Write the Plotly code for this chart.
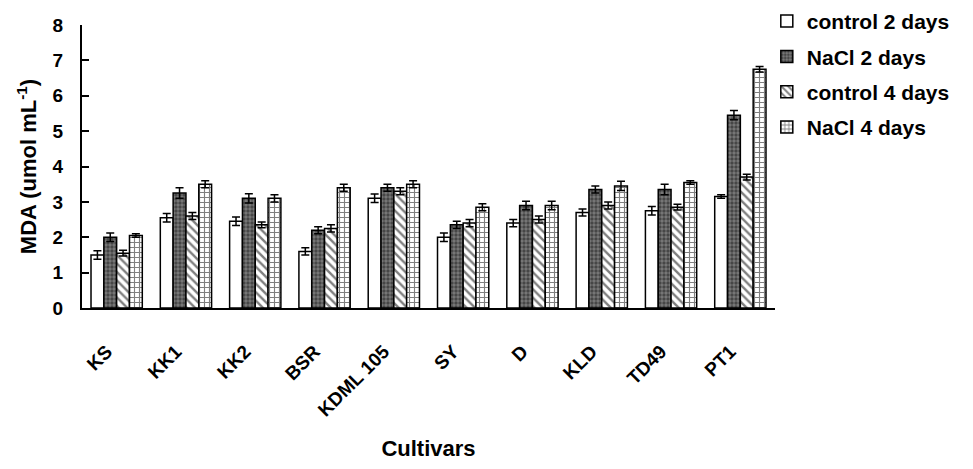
import plotly.graph_objects as go

cultivars = ["KS", "KK1", "KK2", "BSR", "KDML 105", "SY", "D", "KLD", "TD49", "PT1"]
series_names = ["control 2 days", "NaCl 2 days", "control 4 days", "NaCl 4 days"]
control_2d = [1.5, 2.55, 2.45, 1.6, 3.1, 2.0, 2.4, 2.7, 2.75, 3.15]
nacl_2d = [2.0, 3.25, 3.1, 2.2, 3.4, 2.35, 2.9, 3.35, 3.35, 5.45]
control_4d = [1.55, 2.6, 2.35, 2.25, 3.3, 2.4, 2.5, 2.9, 2.85, 3.7]
nacl_4d = [2.05, 3.5, 3.1, 3.4, 3.5, 2.85, 2.9, 3.45, 3.55, 6.75]
err_c2 = [0.12, 0.12, 0.12, 0.1, 0.12, 0.12, 0.1, 0.1, 0.12, 0.05]
err_n2 = [0.12, 0.15, 0.13, 0.1, 0.1, 0.1, 0.12, 0.1, 0.15, 0.13]
err_c4 = [0.08, 0.1, 0.08, 0.1, 0.1, 0.1, 0.1, 0.1, 0.08, 0.08]
err_n4 = [0.05, 0.1, 0.1, 0.1, 0.1, 0.1, 0.12, 0.13, 0.05, 0.08]

FONT = "Arial, Liberation Sans, sans-serif"

patterns = [
    dict(color="white", pattern=dict(shape="")),
    dict(color="#5a5a5a", pattern=dict(shape=".", fgcolor="#111111", bgcolor="#7a7a7a", size=4, solidity=0.55)),
    dict(color="white", pattern=dict(shape="\\", fgcolor="black", bgcolor="white", size=6, solidity=0.4)),
    dict(color="white", pattern=dict(shape="+", fgcolor="black", bgcolor="white", size=5, solidity=0.4)),
]
values = [control_2d, nacl_2d, control_4d, nacl_4d]
errors = [err_c2, err_n2, err_c4, err_n4]

fig = go.Figure()
for name, vals, errs, pat in zip(series_names, values, errors, patterns):
    fig.add_trace(go.Bar(
        x=cultivars, y=vals, name=name, legendgroup=name,
        marker=dict(color=pat["color"], pattern=pat["pattern"],
                    line=dict(color="black", width=1.5)),
        error_y=dict(type="data", array=errs, visible=True,
                     color="black", thickness=1.5, width=4),
    ))

# axis that carries the category labels (slightly offset to the left)
fig.add_trace(go.Scatter(x=cultivars, y=[0] * len(cultivars), xaxis="x2",
                         mode="markers", marker=dict(opacity=0),
                         showlegend=False, hoverinfo="skip"))

fig.update_layout(
    width=957, height=453,
    margin=dict(l=22, r=190, t=17, b=153, autoexpand=False),
    paper_bgcolor="white", plot_bgcolor="rgba(0,0,0,0)",
    barmode="group", bargap=0.26, bargroupgap=0,
    font=dict(family=FONT, color="black", size=16),
    xaxis=dict(domain=[0.0698, 1], categoryorder="array", categoryarray=cultivars,
               showticklabels=False, ticks="", showline=True, linecolor="black",
               linewidth=2, showgrid=False, zeroline=False, range=[-0.5, 9.5],
               title=dict(text="Cultivars", font=dict(family=FONT, size=22, weight="bold"),
                          standoff=138)),
    xaxis2=dict(domain=[0.0564, 0.9866], anchor="y",
                categoryorder="array", categoryarray=cultivars, range=[-0.5, 9.5],
                showline=False, showgrid=False, zeroline=False,
                ticks="outside", ticklen=24, tickcolor="rgba(0,0,0,0)",
                tickangle=-45,
                tickfont=dict(family=FONT, size=19, weight="bold")),
    yaxis=dict(range=[0, 8], dtick=1, showline=True, linecolor="black", linewidth=2,
               ticks="inside", ticklen=7, tickwidth=2, tickcolor="black",
               showgrid=False, zeroline=False, ticklabelstandoff=13,
               tickfont=dict(family=FONT, size=19, weight="bold"),
               title=dict(text="MDA (umol mL<sup>-1</sup>)",
                          font=dict(family=FONT, size=22, weight="bold"), standoff=10)),
    legend=dict(x=0.989, y=1.085, xanchor="left", yanchor="top",
                font=dict(family=FONT, size=21, weight="bold"),
                tracegroupgap=5, bgcolor="rgba(0,0,0,0)", itemwidth=30),
    showlegend=True,
)

fig.write_html("out.html")
